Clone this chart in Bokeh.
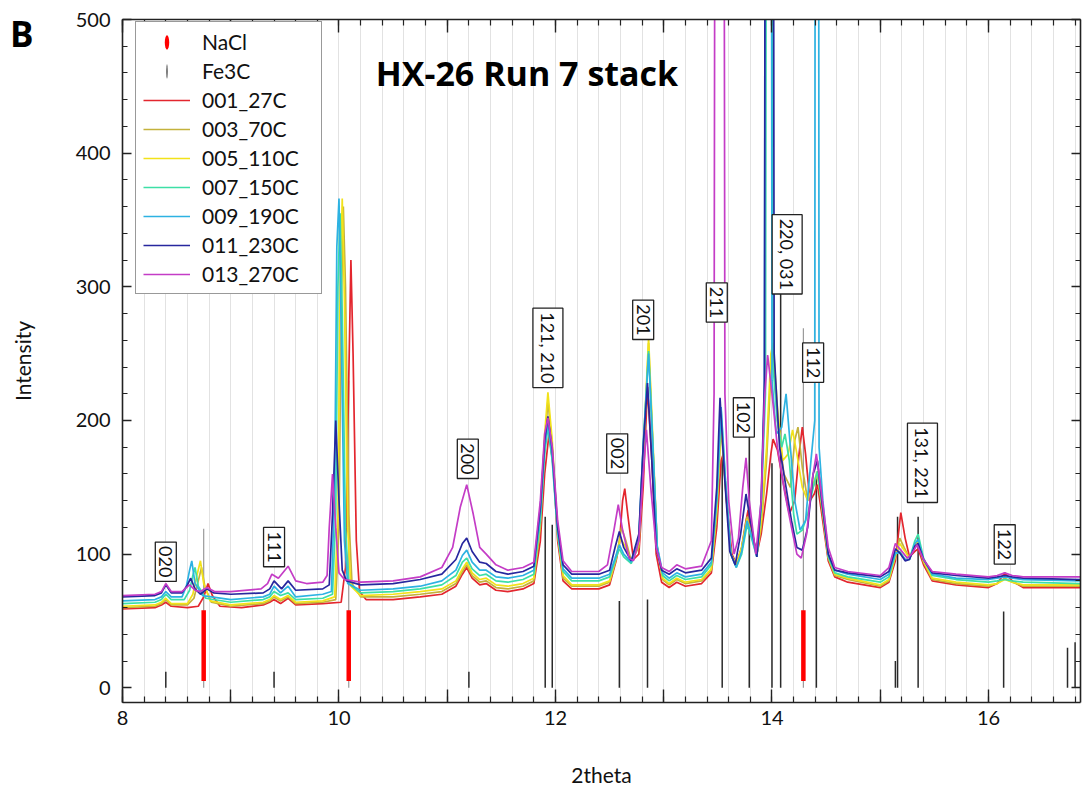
import math
from bokeh.plotting import figure
from bokeh.models import (ColumnDataSource, FixedTicker, LinearAxis, Range1d,
                          Legend, LegendItem, Label, CustomLabelingPolicy, Div)
from bokeh.layouts import column
from bokeh.core.properties import value
from bokeh.embed import file_html
from bokeh.resources import INLINE

FONT = "Lato"
BOLD_FONT = "Open Sans"

# ---------------- data ----------------
series_names = ["001_27C", "003_70C", "005_110C", "007_150C", "009_190C", "011_230C", "013_270C"]
series_colors = ["#e3262e", "#c4b23c", "#f2e21a", "#3ddfa6", "#2db2e2", "#27279e", "#c43cc6"]

pts_001 = [(8.00,59),(8.30,60),(8.36,62),(8.40,64),(8.45,61),(8.60,60),(8.70,61),(8.75,68),(8.79,78),(8.83,69),(8.90,61),(9.10,60),(9.30,62),(9.36,64),(9.40,66),(9.46,63),(9.53,67),(9.60,62),(9.85,63),(10.02,64),(10.06,90),(10.09,230),(10.11,320),(10.13,250),(10.16,110),(10.19,72),(10.25,66),(10.50,66),(10.75,68),(10.95,70),(11.08,76),(11.14,85),(11.18,90),(11.23,82),(11.30,77),(11.36,78),(11.45,73),(11.56,72),(11.70,74),(11.80,78),(11.86,110),(11.90,160),(11.94,190),(11.98,165),(12.02,110),(12.07,80),(12.15,74),(12.40,74),(12.50,77),(12.56,95),(12.59,108),(12.62,140),(12.64,149),(12.67,128),(12.72,96),(12.77,100),(12.81,150),(12.85,225),(12.89,170),(12.93,100),(12.98,79),(13.05,75),(13.12,79),(13.20,76),(13.35,78),(13.44,86),(13.49,120),(13.53,170),(13.55,175),(13.58,140),(13.63,100),(13.67,93),(13.72,105),(13.76,125),(13.78,133),(13.81,118),(13.86,100),(13.90,115),(13.95,145),(13.99,175),(14.01,186),(14.05,178),(14.10,155),(14.16,130),(14.21,140),(14.25,175),(14.28,195),(14.31,175),(14.35,140),(14.39,145),(14.42,152),(14.46,130),(14.52,95),(14.58,83),(14.70,79),(15.00,75),(15.08,79),(15.14,95),(15.19,131),(15.23,112),(15.27,98),(15.32,102),(15.35,104),(15.40,92),(15.48,80),(15.70,77),(16.00,75),(16.08,78),(16.15,86),(16.22,80),(16.32,75),(16.85,75)]

pts_003 = [(8.00,60),(8.30,61),(8.36,63),(8.40,66),(8.45,62),(8.60,62),(8.66,67),(8.70,80),(8.73,90),(8.76,76),(8.82,64),(9.00,61),(9.30,63),(9.36,65),(9.40,68),(9.46,65),(9.53,68),(9.60,63),(9.85,64),(9.97,66),(10.00,120),(10.02,280),(10.04,360),(10.06,300),(10.09,130),(10.12,78),(10.20,68),(10.50,68),(10.75,70),(10.95,72),(11.08,78),(11.14,87),(11.18,92),(11.23,84),(11.30,79),(11.36,80),(11.45,75),(11.56,74),(11.70,76),(11.80,80),(11.86,120),(11.90,180),(11.93,215),(11.97,180),(12.02,115),(12.07,82),(12.15,76),(12.40,76),(12.50,79),(12.56,96),(12.61,120),(12.65,110),(12.70,95),(12.77,105),(12.81,170),(12.86,258),(12.90,180),(12.94,105),(12.99,81),(13.05,77),(13.12,81),(13.20,78),(13.35,80),(13.44,88),(13.49,130),(13.53,195),(13.57,150),(13.62,100),(13.67,92),(13.72,105),(13.77,128),(13.81,115),(13.86,100),(13.90,120),(13.95,170),(13.99,235),(14.01,252),(14.05,200),(14.11,160),(14.17,150),(14.21,185),(14.24,195),(14.28,165),(14.33,140),(14.38,150),(14.42,160),(14.46,135),(14.52,97),(14.58,84),(14.70,81),(15.00,76),(15.08,80),(15.14,98),(15.18,112),(15.22,105),(15.27,97),(15.32,105),(15.35,108),(15.40,94),(15.48,81),(15.70,78),(16.00,76),(16.08,78),(16.15,82),(16.22,79),(16.32,76),(16.85,76)]

pts_005 = [(8.00,61),(8.30,62),(8.36,64),(8.40,67),(8.45,63),(8.60,63),(8.65,70),(8.69,85),(8.72,95),(8.75,78),(8.81,65),(9.00,62),(9.30,64),(9.36,66),(9.40,69),(9.46,66),(9.53,69),(9.60,64),(9.85,65),(9.96,68),(9.99,130),(10.01,300),(10.03,366),(10.05,290),(10.08,120),(10.11,76),(10.20,69),(10.50,70),(10.75,72),(10.95,74),(11.08,80),(11.14,89),(11.18,94),(11.23,86),(11.30,81),(11.36,82),(11.45,77),(11.56,76),(11.70,78),(11.80,82),(11.86,125),(11.90,190),(11.93,221),(11.97,185),(12.02,115),(12.07,84),(12.15,77),(12.40,77),(12.50,80),(12.56,98),(12.60,112),(12.65,105),(12.70,94),(12.77,108),(12.81,175),(12.86,262),(12.90,185),(12.94,105),(12.99,82),(13.05,78),(13.12,82),(13.20,79),(13.35,81),(13.44,89),(13.49,135),(13.53,200),(13.57,152),(13.62,100),(13.67,92),(13.72,105),(13.77,126),(13.81,114),(13.86,100),(13.90,125),(13.95,180),(13.99,250),(14.01,258),(14.05,210),(14.10,170),(14.15,175),(14.19,193),(14.23,175),(14.28,150),(14.33,140),(14.38,152),(14.42,162),(14.46,138),(14.52,98),(14.58,85),(14.70,82),(15.00,77),(15.08,81),(15.14,99),(15.18,108),(15.22,103),(15.27,97),(15.32,107),(15.35,110),(15.40,95),(15.48,82),(15.70,79),(16.00,77),(16.08,78),(16.15,81),(16.22,79),(16.32,77),(16.85,77)]

pts_007 = [(8.00,63),(8.30,64),(8.36,66),(8.40,70),(8.45,66),(8.57,66),(8.62,73),(8.65,84),(8.67,90),(8.70,76),(8.77,67),(9.00,64),(9.30,66),(9.36,68),(9.40,72),(9.46,69),(9.53,71),(9.60,66),(9.85,67),(9.94,70),(9.97,130),(9.99,300),(10.01,355),(10.03,280),(10.06,120),(10.09,78),(10.20,71),(10.50,72),(10.75,74),(10.95,77),(11.08,84),(11.14,94),(11.18,97),(11.23,89),(11.30,84),(11.36,85),(11.45,80),(11.56,79),(11.70,81),(11.80,85),(11.86,125),(11.90,175),(11.93,195),(11.97,170),(12.02,115),(12.07,87),(12.15,80),(12.40,80),(12.50,83),(12.55,95),(12.59,104),(12.63,98),(12.70,93),(12.77,110),(12.81,180),(12.86,252),(12.90,180),(12.94,105),(12.99,84),(13.05,80),(13.12,84),(13.20,81),(13.35,83),(13.44,92),(13.49,140),(13.53,208),(13.57,155),(13.62,100),(13.67,90),(13.72,100),(13.77,122),(13.81,112),(13.86,98),(13.90,135),(13.94,220),(13.98,2500),(14.01,240),(14.05,200),(14.09,180),(14.12,190),(14.16,170),(14.20,130),(14.23,115),(14.28,118),(14.33,130),(14.38,150),(14.42,162),(14.46,138),(14.52,98),(14.58,86),(14.70,83),(15.00,79),(15.08,83),(15.14,100),(15.18,102),(15.23,96),(15.27,96),(15.32,110),(15.35,115),(15.40,97),(15.48,84),(15.70,81),(16.00,79),(16.08,80),(16.15,81),(16.22,80),(16.32,79),(16.85,78)]

pts_009 = [(8.00,65),(8.30,66),(8.36,68),(8.40,72),(8.45,68),(8.55,68),(8.59,76),(8.62,88),(8.64,95),(8.67,78),(8.74,69),(9.00,66),(9.30,68),(9.36,70),(9.40,76),(9.46,71),(9.53,76),(9.60,68),(9.85,70),(9.93,72),(9.96,150),(9.98,330),(10.00,366),(10.02,270),(10.05,110),(10.08,78),(10.20,73),(10.50,74),(10.75,76),(10.95,80),(11.08,88),(11.14,99),(11.18,103),(11.23,94),(11.30,88),(11.36,88),(11.45,83),(11.56,82),(11.70,84),(11.80,88),(11.86,130),(11.90,180),(11.93,198),(11.97,172),(12.02,117),(12.07,89),(12.15,82),(12.40,82),(12.50,85),(12.55,97),(12.59,107),(12.63,100),(12.70,94),(12.77,112),(12.81,182),(12.86,250),(12.90,180),(12.94,106),(12.99,86),(13.05,82),(13.12,86),(13.20,83),(13.35,85),(13.44,94),(13.49,142),(13.53,210),(13.57,155),(13.62,100),(13.67,90),(13.72,102),(13.77,125),(13.81,114),(13.86,98),(13.90,135),(13.93,220),(13.975,2500),(14.00,230),(14.04,190),(14.09,195),(14.13,220),(14.17,180),(14.21,140),(14.26,118),(14.31,125),(14.36,170),(14.395,200),(14.415,2500),(14.435,180),(14.47,140),(14.52,100),(14.58,88),(14.70,85),(15.00,81),(15.08,85),(15.14,101),(15.18,101),(15.23,96),(15.27,96),(15.32,108),(15.35,111),(15.40,96),(15.48,85),(15.70,82),(16.00,81),(16.08,82),(16.15,83),(16.22,82),(16.32,81),(16.85,80)]

pts_011 = [(8.00,68),(8.30,69),(8.36,71),(8.40,77),(8.45,71),(8.55,71),(8.60,77),(8.63,82),(8.67,74),(8.72,70),(8.78,74),(8.84,71),(9.00,70),(9.30,71),(9.36,74),(9.40,80),(9.47,74),(9.53,80),(9.60,73),(9.85,74),(9.91,77),(9.94,130),(9.97,200),(10.00,140),(10.03,88),(10.07,80),(10.20,77),(10.50,78),(10.75,81),(10.95,85),(11.08,96),(11.14,108),(11.18,112),(11.23,102),(11.30,94),(11.36,93),(11.45,87),(11.56,85),(11.70,87),(11.80,91),(11.86,135),(11.90,185),(11.93,203),(11.97,178),(12.02,120),(12.07,92),(12.15,85),(12.40,85),(12.50,88),(12.55,105),(12.59,117),(12.63,105),(12.70,95),(12.77,115),(12.81,180),(12.85,228),(12.89,170),(12.93,105),(12.98,88),(13.05,85),(13.12,89),(13.20,86),(13.35,88),(13.44,97),(13.49,150),(13.52,217),(13.56,160),(13.61,102),(13.66,92),(13.71,115),(13.76,145),(13.80,125),(13.86,98),(13.90,140),(13.93,230),(13.975,3000),(14.02,250),(14.07,180),(14.13,150),(14.18,125),(14.23,105),(14.28,103),(14.33,120),(14.38,160),(14.42,170),(14.46,140),(14.52,100),(14.58,88),(14.70,86),(15.00,83),(15.08,87),(15.14,104),(15.18,101),(15.23,95),(15.27,96),(15.32,106),(15.35,108),(15.40,96),(15.48,86),(15.70,84),(16.00,82),(16.08,83),(16.15,84),(16.22,83),(16.32,82),(16.85,81)]

pts_013 = [(8.00,69),(8.30,70),(8.36,72),(8.40,78),(8.45,72),(8.55,72),(8.59,75),(8.62,77),(8.67,73),(8.72,72),(8.78,75),(8.85,72),(9.00,72),(9.28,74),(9.34,78),(9.38,85),(9.44,82),(9.53,91),(9.60,80),(9.70,78),(9.85,79),(9.89,84),(9.91,120),(9.94,160),(9.97,120),(10.00,86),(10.05,81),(10.20,79),(10.50,80),(10.75,83),(10.95,90),(11.05,105),(11.12,135),(11.18,152),(11.24,130),(11.30,105),(11.36,100),(11.45,92),(11.56,88),(11.70,90),(11.80,94),(11.86,140),(11.90,190),(11.93,202),(11.97,180),(12.02,125),(12.07,95),(12.15,87),(12.40,87),(12.48,92),(12.54,118),(12.58,137),(12.62,118),(12.68,97),(12.72,95),(12.77,110),(12.81,160),(12.84,193),(12.88,150),(12.93,105),(12.98,90),(13.05,87),(13.12,92),(13.20,89),(13.35,91),(13.44,110),(13.465,220),(13.515,3000),(13.565,220),(13.60,140),(13.65,100),(13.69,112),(13.73,150),(13.76,172),(13.79,140),(13.85,100),(13.90,140),(13.93,215),(13.96,249),(14.00,220),(14.05,180),(14.12,145),(14.18,120),(14.23,100),(14.27,97),(14.32,115),(14.37,155),(14.41,175),(14.45,150),(14.52,105),(14.58,90),(14.70,87),(15.00,84),(15.08,90),(15.14,108),(15.19,103),(15.25,97),(15.29,100),(15.34,107),(15.40,96),(15.48,87),(15.70,85),(16.00,83),(16.08,84),(16.15,86),(16.22,84),(16.32,83),(16.85,83)]

series_points = [pts_001, pts_003, pts_005, pts_007, pts_009, pts_011, pts_013]

# Fe3C reference sticks
fe3c_pos = [8.40, 9.40, 11.20, 11.905, 11.97, 12.59, 12.85, 13.54, 13.79, 14.00, 14.08, 14.41, 15.14, 15.16, 15.35, 16.14, 16.73, 16.80]
fe3c_int = [12, 12, 12, 128, 122, 65, 66, 172, 188, 168, 296, 157, 20, 128, 128, 57, 30, 34]

# NaCl reference (gray sticks) and red markers
nacl_pos = [8.75, 10.09, 14.29]
nacl_int = [119, 230, 269]
nacl_mark_lo = [5, 5, 5]
nacl_mark_hi = [58, 58, 58]

# hkl labels (x, top of label)
hkl_text = ["020", "111", "200", "121, 210", "002", "201", "211", "102", "220, 031", "112", "131, 221", "122"]
hkl_x = [8.40, 9.40, 11.19, 11.93, 12.57, 12.81, 13.49, 13.74, 14.14, 14.38, 15.39, 16.15]
hkl_top = [109, 120, 186, 284, 190, 290, 303, 217, 354, 258, 198, 122]

x_major = [8, 9, 10, 11, 12, 13, 14, 15, 16]
y_major = [0, 100, 200, 300, 400, 500]

# ---------------- figure ----------------
p = figure(width=1088, height=789, x_range=Range1d(8, 16.85), y_range=Range1d(-11, 500),
           output_backend="svg", toolbar_location=None,
           min_border_left=122, min_border_right=8, min_border_top=19, min_border_bottom=85)
p.outline_line_color = None
p.background_fill_color = "white"

x_minor = [round(8 + 0.2 * i, 1) for i in range(45)]
y_minor = [20 * i for i in range(26)]
xt = FixedTicker(ticks=x_major, minor_ticks=x_minor)
yt = FixedTicker(ticks=y_major, minor_ticks=y_minor)

p.xgrid.ticker = xt
p.xgrid.grid_line_color = "#e2e2e2"
p.xgrid.minor_grid_line_color = "#e2e2e2"
p.ygrid.grid_line_color = None

no_labels = CustomLabelingPolicy(code="return []")
even_labels = CustomLabelingPolicy(code="""
const out = []
for (const i of indices) { if (i % 2 == 0) out.push(i) }
return out
""")

def style_axis(ax, ticker, is_x, labels=True):
    ax.ticker = ticker
    ax.axis_line_color = "#222222"
    ax.axis_line_width = 1.6
    ax.major_tick_line_color = "#222222"
    ax.minor_tick_line_color = "#222222"
    ax.major_tick_line_width = 1.4
    ax.minor_tick_line_width = 1.2
    ax.major_tick_out = 0
    ax.minor_tick_out = 0
    ax.major_tick_in = 13 if is_x else 9
    ax.minor_tick_in = 6 if is_x else 5
    if labels:
        ax.major_label_text_font = FONT
        ax.major_label_text_font_size = "20px"
        ax.major_label_text_color = "#111111"
        ax.axis_label_text_font = FONT
        ax.axis_label_text_font_size = "21px"
        ax.axis_label_text_font_style = "normal"
        ax.axis_label_text_color = "#111111"
    else:
        ax.major_label_policy = no_labels
        ax.major_label_text_font_size = "0px"
        ax.major_label_standoff = 0

style_axis(p.xaxis[0], xt, True)
p.xaxis[0].major_label_policy = even_labels
p.xaxis[0].axis_label = "2theta"
p.xaxis[0].major_label_standoff = 8
p.xaxis[0].axis_label_standoff = 34

style_axis(p.yaxis[0], yt, False)
p.yaxis[0].axis_label = "Intensity"
p.yaxis[0].major_label_standoff = 12
p.yaxis[0].axis_label_standoff = 38

top_ax = LinearAxis()
style_axis(top_ax, xt, True, labels=False)
p.add_layout(top_ax, "above")
right_ax = LinearAxis()
style_axis(right_ax, yt, False, labels=False)
p.add_layout(right_ax, "right")

# reference sticks
fe_src = ColumnDataSource(dict(x=fe3c_pos, y0=[0] * len(fe3c_pos), y1=fe3c_int))
p.segment(x0="x", y0="y0", x1="x", y1="y1", source=fe_src, line_color="#2a2a2a", line_width=1.5)
na_src = ColumnDataSource(dict(x=nacl_pos, y0=[0] * len(nacl_pos), y1=nacl_int,
                               lo=nacl_mark_lo, hi=nacl_mark_hi))
p.segment(x0="x", y0="y0", x1="x", y1="y1", source=na_src, line_color="#9a9a9a", line_width=1.2)
p.segment(x0="x", y0="lo", x1="x", y1="hi", source=na_src, line_color="#ff0000", line_width=4.5)

# curves
line_renderers = []
for name, color, pts in zip(series_names, series_colors, series_points):
    xs = [a for a, b in pts]
    ys = [b for a, b in pts]
    r = p.line(xs, ys, line_color=color, line_width=1.7)
    line_renderers.append(r)

# hkl labels
lab_src = ColumnDataSource(dict(x=hkl_x, y=hkl_top, text=hkl_text))
p.text(x="x", y="y", text="text", source=lab_src, angle=-math.pi / 2,
       text_align="left", text_baseline="middle", text_font=value(FONT),
       text_font_size="18px", text_color="#111111",
       border_line_color="#222222", border_line_width=1.3,
       background_fill_color="white", padding=4)

# legend proxies (drawn far outside the view; used only for legend symbols)
nacl_proxy = p.ellipse(x=[0], y=[-1000], width=4, height=13, width_units="screen",
                       height_units="screen", fill_color="#ff0000", line_color=None)
fe_proxy = p.ellipse(x=[0], y=[-1000], width=1.2, height=14, width_units="screen",
                     height_units="screen", fill_color="#333333", line_color=None)

items = [LegendItem(label="NaCl", renderers=[nacl_proxy]),
         LegendItem(label="Fe3C", renderers=[fe_proxy])]
for name, r in zip(series_names, line_renderers):
    items.append(LegendItem(label=name, renderers=[r]))

legend = Legend(items=items, location=(13, 408),
                label_text_font=FONT, label_text_font_size="21px", label_text_color="#111111",
                glyph_width=47, glyph_height=18, label_height=25, label_width=112,
                spacing=4, padding=7,
                label_standoff=12, border_line_color="#333333", border_line_width=1.3,
                background_fill_color="white", background_fill_alpha=1.0)
p.add_layout(legend)

# title inside plot
p.add_layout(Label(x=10.34, y=460, text="HX-26 Run 7 stack", text_font=BOLD_FONT,
                   text_font_style="bold", text_font_size="34px", text_color="#000000",
                   text_baseline="middle", text_align="left"))

# panel letter in the top-left margin, floated over the figure
panel_letter = Div(text="B", width=40, height=0, margin=0,
                   styles={"position": "relative", "left": "10px", "top": "16px",
                           "z-index": "10", "font-family": BOLD_FONT, "font-size": "35px",
                           "font-weight": "bold", "color": "#000000", "line-height": "1",
                           "overflow": "visible"})

layout = column(panel_letter, p, spacing=0)

open("out.html", "w").write(file_html(layout, INLINE))
